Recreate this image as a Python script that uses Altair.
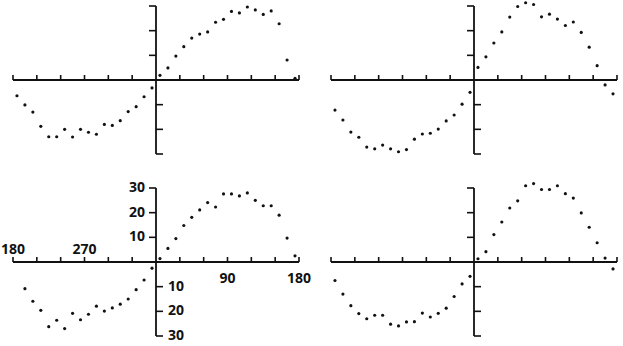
import altair as alt
import pandas as pd

# Angles (degrees) of the plotted points
angles_full = [-175, -165, -155, -145, -135, -125, -115, -105, -95, -85, -75, -65,
               -55, -45, -35, -25, -15, -5, 5, 15, 25, 35, 45, 55, 65, 75, 85, 95,
               105, 115, 125, 135, 145, 155, 165, 175]
angles_p3 = angles_full[1:]

# Values, panel by panel
vals_p1 = [-6.4, -10.1, -13.0, -18.8, -23.0, -23.0, -20.0, -23.1, -20.0, -21.2, -22.0, -18.0,
           -18.4, -16.5, -12.8, -10.8, -6.8, -3.2, 1.9, 4.9, 9.7, 13.5, 17.0, 18.6,
           19.5, 23.4, 24.6, 27.8, 27.2, 29.6, 28.4, 26.6, 28.0, 22.8, 8.1, 0.7]
vals_p2 = [-12.2, -16.2, -21.1, -23.2, -27.2, -27.9, -26.4, -27.9, -29.1, -28.2, -24.0, -21.9,
           -21.6, -19.9, -16.6, -14.2, -9.8, -5.0, 5.1, 9.4, 15.0, 19.5, 25.5, 29.8,
           31.3, 30.6, 25.6, 26.7, 24.7, 22.1, 23.5, 19.3, 13.3, 5.8, -2.0, -5.6]
vals_p3 = [-10.8, -15.9, -19.6, -26.2, -23.6, -27.0, -20.8, -23.4, -21.2, -17.9, -19.9,
           -18.6, -17.1, -15.0, -11.2, -7.3, -2.5, 1.4, 5.5, 9.5, 14.8, 18.1, 21.1,
           24.1, 22.3, 27.6, 27.6, 26.8, 28.0, 25.0, 22.8, 22.8, 19.0, 9.7, 2.5]
vals_p4 = [-7.5, -13.0, -17.7, -20.9, -23.0, -21.6, -21.6, -25.2, -25.9, -24.3, -24.2, -20.7,
           -22.3, -20.8, -18.7, -14.0, -8.9, -5.8, 1.3, 4.2, 11.1, 16.2, 21.9, 24.8,
           30.9, 31.8, 29.4, 29.4, 30.9, 27.7, 25.9, 19.9, 14.1, 7.8, 1.6, -2.8]

# Axis ticks and labels
x_ticks = [-180, -150, -120, -90, -60, -30, 30, 60, 90, 120, 150, 180]
y_ticks_up = [10, 20, 30]
y_ticks_down = [-10, -20, -30]
x_lab_left_pos = [-180, -90]
x_lab_left_txt = ["180", "270"]
x_lab_right_pos = [90, 180]
x_lab_right_txt = ["90", "180"]
y_lab_up_txt = ["10", "20", "30"]
y_lab_down_txt = ["10", "20", "30"]

INK = "#111111"
W, H = 286, 148
XS = alt.Scale(domain=[-180, 180])
YS = alt.Scale(domain=[-30, 30])
FONT = "Open Sans"


def panel(xs, ys, labels=False):
    pts = alt.Chart(pd.DataFrame({"a": xs, "v": ys})).mark_circle(
        size=10, color=INK, opacity=1
    ).encode(x=alt.X("a:Q", scale=XS, axis=None), y=alt.Y("v:Q", scale=YS, axis=None))

    hline = alt.Chart(pd.DataFrame({"a": [-180], "a2": [180], "v": [0]})).mark_rule(
        color=INK, strokeWidth=1.8
    ).encode(x=alt.X("a:Q", scale=XS, axis=None), x2="a2:Q", y=alt.Y("v:Q", scale=YS, axis=None))

    vline = alt.Chart(pd.DataFrame({"a": [0], "v": [-30], "v2": [30]})).mark_rule(
        color=INK, strokeWidth=1.8
    ).encode(x=alt.X("a:Q", scale=XS, axis=None), y=alt.Y("v:Q", scale=YS, axis=None), y2="v2:Q")

    xt = alt.Chart(pd.DataFrame({"a": x_ticks, "v": [0] * len(x_ticks)})).mark_rule(
        color=INK, strokeWidth=1.6, y2Offset=-5
    ).encode(x=alt.X("a:Q", scale=XS, axis=None), y=alt.Y("v:Q", scale=YS, axis=None), y2="v:Q")

    yt_up = alt.Chart(pd.DataFrame({"a": [0] * 3, "v": y_ticks_up})).mark_rule(
        color=INK, strokeWidth=1.6, x2Offset=-7
    ).encode(x=alt.X("a:Q", scale=XS, axis=None), x2="a:Q", y=alt.Y("v:Q", scale=YS, axis=None))

    yt_dn = alt.Chart(pd.DataFrame({"a": [0] * 3, "v": y_ticks_down})).mark_rule(
        color=INK, strokeWidth=1.6, x2Offset=7
    ).encode(x=alt.X("a:Q", scale=XS, axis=None), x2="a:Q", y=alt.Y("v:Q", scale=YS, axis=None))

    layers = [hline, vline, xt, yt_up, yt_dn, pts]

    if labels:
        tkw = dict(color=INK, font=FONT, fontSize=14, fontWeight="bold")
        xl1 = alt.Chart(pd.DataFrame({"a": x_lab_left_pos, "v": [0, 0], "t": x_lab_left_txt})).mark_text(
            align="center", baseline="alphabetic", dy=-8, **tkw
        ).encode(x=alt.X("a:Q", scale=XS, axis=None), y=alt.Y("v:Q", scale=YS, axis=None), text="t:N")
        xl2 = alt.Chart(pd.DataFrame({"a": x_lab_right_pos, "v": [0, 0], "t": x_lab_right_txt})).mark_text(
            align="center", baseline="alphabetic", dy=21, **tkw
        ).encode(x=alt.X("a:Q", scale=XS, axis=None), y=alt.Y("v:Q", scale=YS, axis=None), text="t:N")
        yl1 = alt.Chart(pd.DataFrame({"a": [0] * 3, "v": y_ticks_up, "t": y_lab_up_txt})).mark_text(
            align="right", baseline="middle", dx=-11, **tkw
        ).encode(x=alt.X("a:Q", scale=XS, axis=None), y=alt.Y("v:Q", scale=YS, axis=None), text="t:N")
        yl2 = alt.Chart(pd.DataFrame({"a": [0] * 3, "v": y_ticks_down, "t": y_lab_down_txt})).mark_text(
            align="left", baseline="middle", dx=12, **tkw
        ).encode(x=alt.X("a:Q", scale=XS, axis=None), y=alt.Y("v:Q", scale=YS, axis=None), text="t:N")
        layers += [xl1, xl2, yl1, yl2]

    return alt.layer(*layers).properties(width=W, height=H)


p1 = panel(angles_full, vals_p1)
p2 = panel(angles_full, vals_p2)
p3 = panel(angles_p3, vals_p3, labels=True)
p4 = panel(angles_full, vals_p4)

chart = alt.concat(
    p1, p2, p3, p4,
    columns=2,
    spacing={"row": 34, "column": 32},
    bounds="flush",
).properties(
    padding={"left": 0, "top": 1, "right": 0, "bottom": 0},
    background="white",
).configure_view(stroke=None)

chart.save("out.html", embed_options={"renderer": "svg", "actions": False})
